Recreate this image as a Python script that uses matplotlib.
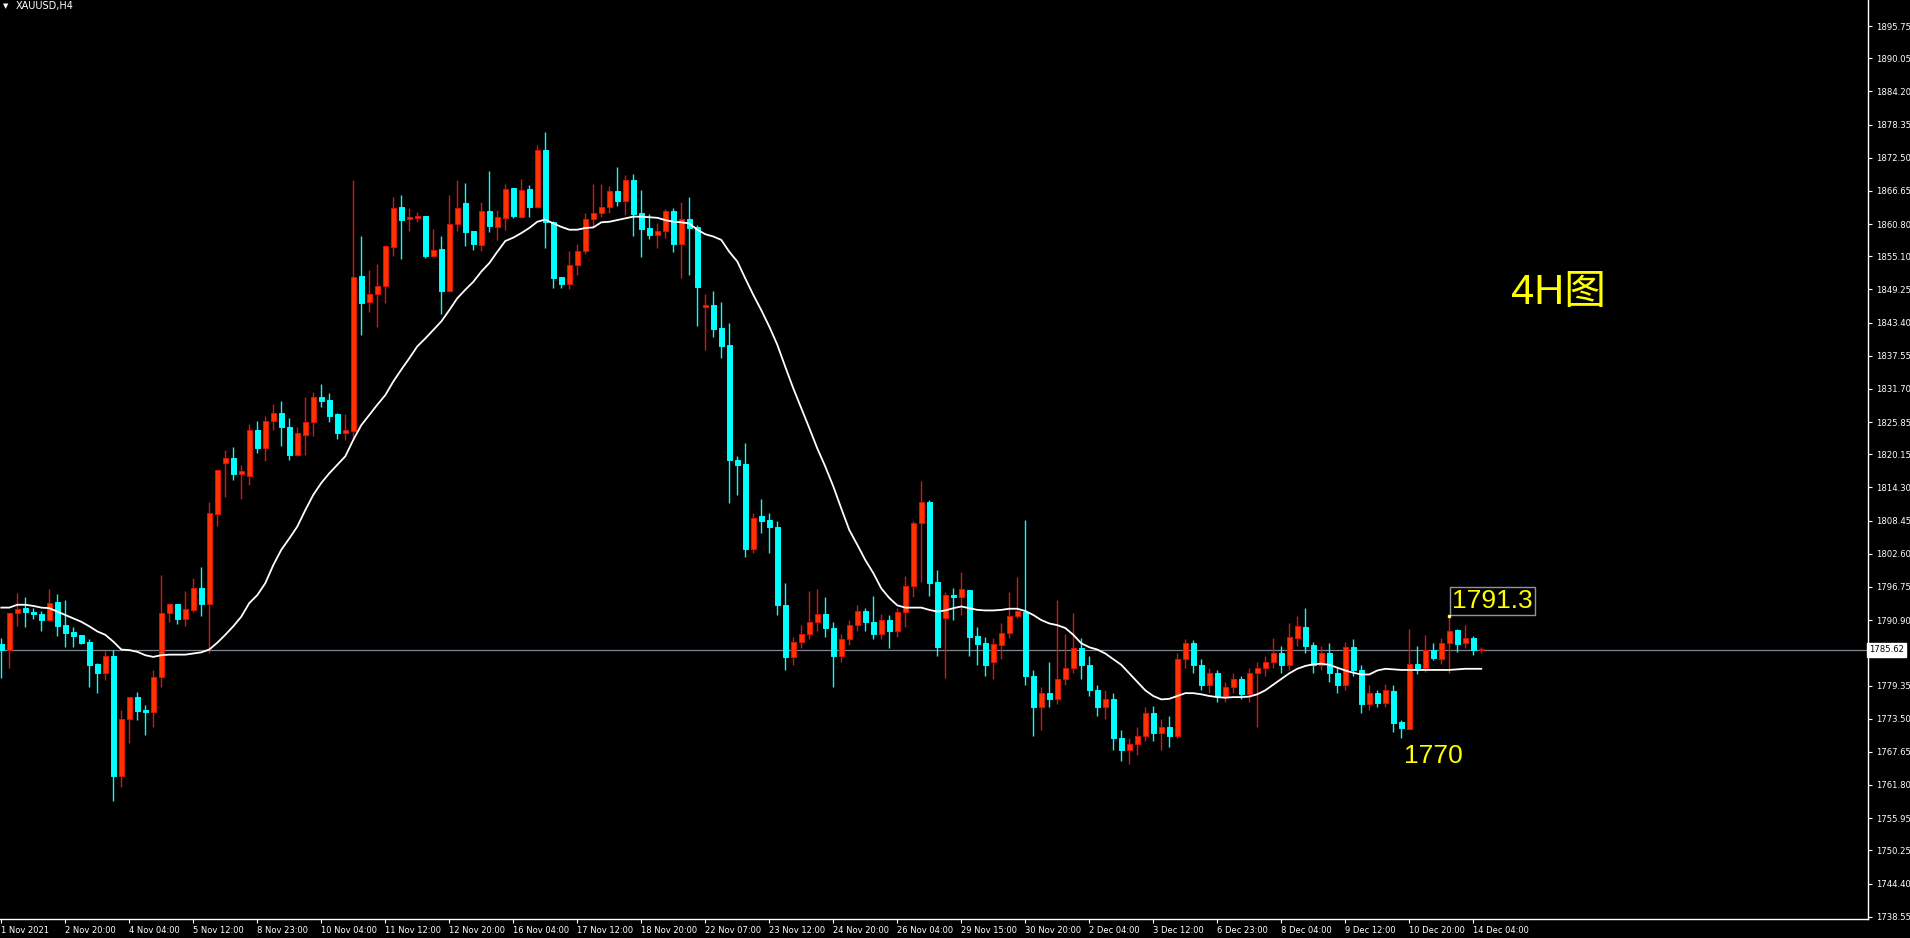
import matplotlib
matplotlib.use("Agg")
import matplotlib.pyplot as plt

# XAUUSD H4 candles, one value per bar (prices)
opens = [
    1786.7, 1785.7, 1792.1, 1793.0, 1792.3, 1792.0, 1791.0, 1794.1, 1790.0, 1788.8,
    1788.3, 1787.0, 1783.1, 1781.6, 1784.6, 1763.3, 1773.4, 1777.3, 1775.0, 1774.6,
    1780.9, 1792.2, 1793.7, 1791.1, 1792.7, 1796.6, 1793.8, 1809.7, 1818.7, 1819.5,
    1816.6, 1816.4, 1824.5, 1821.3, 1826.0, 1827.5, 1825.0, 1820.1, 1823.6, 1825.8,
    1830.3, 1829.8, 1827.2, 1824.0, 1824.3, 1851.6, 1847.0, 1848.4, 1849.8, 1856.8,
    1863.8, 1861.6, 1861.9, 1862.2, 1855.1, 1856.4, 1848.9, 1860.8, 1864.5, 1859.5,
    1857.1, 1863.1, 1860.3, 1861.8, 1867.2, 1862.1, 1866.9, 1863.8, 1873.9, 1861.1,
    1851.5, 1850.2, 1853.5, 1856.1, 1861.6, 1862.7, 1863.8, 1866.6, 1864.8, 1868.6,
    1862.7, 1860.1, 1858.8, 1859.5, 1863.1, 1857.3, 1861.7, 1860.3, 1846.2, 1846.5,
    1842.5, 1839.5, 1819.2, 1818.5, 1803.5, 1809.2, 1808.5, 1807.4, 1793.5, 1784.3,
    1787.0, 1788.5, 1790.5, 1792.0, 1789.5, 1784.5, 1787.5, 1790.0, 1792.5, 1790.5,
    1788.5, 1791.0, 1789.0, 1792.4, 1797.0, 1808.0, 1811.7, 1797.6, 1791.3, 1795.3,
    1794.9, 1796.2, 1788.1, 1786.8, 1783.5, 1786.5, 1788.7, 1791.7, 1792.4, 1781.0,
    1775.5, 1778.0, 1777.0, 1780.5, 1782.5, 1786.0, 1783.0, 1778.5, 1775.5, 1777.0,
    1770.0, 1768.0, 1769.0, 1770.5, 1774.5, 1771.0, 1772.0, 1770.5, 1784.0, 1786.8,
    1783.0, 1779.5, 1781.5, 1777.5, 1779.0, 1780.5, 1777.8, 1781.5, 1782.5, 1783.5,
    1785.0, 1783.0, 1787.8, 1789.7, 1786.5, 1783.0, 1785.0, 1781.5, 1779.5, 1786.2,
    1782.0, 1776.0, 1778.0, 1776.2, 1778.4, 1772.9, 1771.7, 1783.2, 1782.5, 1785.7,
    1784.1, 1786.8, 1789.2, 1786.8, 1787.7, 1785.7,
]
highs = [
    1787.7, 1792.2, 1795.6, 1794.9, 1793.1, 1792.5, 1796.4, 1795.5, 1794.4, 1789.7,
    1788.3, 1787.6, 1783.3, 1785.4, 1785.6, 1775.0, 1777.3, 1778.2, 1775.9, 1782.1,
    1798.9, 1794.0, 1793.7, 1796.0, 1798.4, 1800.2, 1811.8, 1817.4, 1821.0, 1821.5,
    1818.3, 1825.5, 1826.0, 1827.0, 1829.0, 1829.5, 1826.5, 1825.0, 1830.3, 1831.2,
    1832.6, 1831.0, 1827.4, 1827.2, 1868.5, 1858.6, 1852.7, 1853.8, 1857.1, 1865.5,
    1865.9, 1863.6, 1862.9, 1862.2, 1859.9, 1858.7, 1865.9, 1868.6, 1868.0, 1859.5,
    1864.7, 1870.2, 1863.3, 1867.9, 1867.2, 1868.7, 1867.7, 1874.8, 1877.1, 1861.4,
    1851.5, 1856.1, 1857.3, 1862.8, 1867.9, 1867.9, 1867.5, 1870.8, 1869.5, 1869.6,
    1866.8, 1862.6, 1860.9, 1863.5, 1863.6, 1864.7, 1865.6, 1860.6, 1848.5, 1849.0,
    1847.1, 1843.3, 1819.8, 1822.2, 1809.8, 1812.3, 1809.8, 1808.4, 1797.4, 1788.0,
    1790.0, 1796.0, 1796.4, 1794.9, 1790.5, 1788.5, 1791.0, 1793.5, 1793.0, 1795.1,
    1792.0, 1791.8, 1793.0, 1798.7, 1808.4, 1815.5, 1812.1, 1799.7, 1795.9, 1796.6,
    1799.4, 1796.2, 1789.7, 1787.9, 1787.7, 1790.4, 1795.9, 1798.5, 1808.6, 1782.0,
    1779.0, 1783.5, 1794.4, 1788.4, 1792.2, 1787.7, 1784.5, 1779.5, 1778.5, 1778.0,
    1771.5, 1770.0, 1772.0, 1775.5, 1775.8, 1773.5, 1774.0, 1785.0, 1787.5, 1787.4,
    1784.0, 1782.5, 1782.0, 1780.0, 1781.5, 1781.0, 1782.5, 1783.5, 1784.5, 1787.7,
    1786.3, 1790.4, 1791.6, 1793.0, 1787.0, 1786.3, 1786.9, 1782.5, 1787.0, 1787.6,
    1783.0, 1779.5, 1778.5, 1779.6, 1779.4, 1773.3, 1789.3, 1786.3, 1788.3, 1786.9,
    1787.7, 1791.7, 1789.3, 1790.0, 1788.1, 1786.1,
]
lows = [
    1780.7, 1782.5, 1789.9, 1789.6, 1791.1, 1789.0, 1790.8, 1788.1, 1786.2, 1786.2,
    1786.6, 1779.1, 1778.1, 1780.3, 1759.0, 1761.5, 1769.2, 1773.3, 1770.6, 1772.1,
    1779.0, 1790.6, 1790.2, 1789.9, 1792.4, 1791.7, 1785.0, 1807.5, 1812.7, 1815.6,
    1812.3, 1814.7, 1820.4, 1819.0, 1824.5, 1821.6, 1819.1, 1819.8, 1820.1, 1823.3,
    1828.5, 1825.9, 1822.8, 1822.6, 1822.7, 1841.3, 1845.2, 1842.7, 1846.9, 1855.1,
    1854.7, 1859.6, 1861.1, 1854.8, 1855.1, 1844.9, 1848.9, 1859.6, 1856.9, 1856.2,
    1856.1, 1859.4, 1858.0, 1859.8, 1861.8, 1861.8, 1862.1, 1863.6, 1856.5, 1849.5,
    1849.5, 1849.3, 1851.8, 1855.5, 1860.3, 1862.1, 1862.7, 1864.0, 1862.4, 1858.6,
    1854.9, 1858.1, 1856.6, 1858.4, 1855.9, 1851.3, 1851.8, 1842.8, 1838.6, 1840.9,
    1837.2, 1811.5, 1813.0, 1802.1, 1802.8, 1806.3, 1802.8, 1791.8, 1782.0, 1783.0,
    1786.0, 1787.5, 1789.0, 1788.0, 1779.0, 1783.5, 1786.5, 1789.0, 1789.0, 1787.5,
    1787.5, 1786.0, 1788.0, 1789.7, 1795.0, 1797.7, 1795.2, 1784.5, 1780.7, 1790.9,
    1791.8, 1784.5, 1783.0, 1781.0, 1780.5, 1784.0, 1787.8, 1791.3, 1779.5, 1770.5,
    1771.5, 1775.5, 1776.0, 1779.5, 1781.5, 1780.5, 1777.5, 1774.0, 1773.5, 1768.0,
    1766.0, 1765.5, 1767.0, 1769.5, 1769.5, 1768.0, 1768.5, 1770.0, 1782.5, 1781.5,
    1778.5, 1778.0, 1776.5, 1776.5, 1778.0, 1777.0, 1776.5, 1772.0, 1781.0, 1782.5,
    1781.5, 1782.0, 1786.4, 1785.0, 1781.5, 1782.0, 1780.0, 1778.0, 1778.5, 1781.0,
    1774.5, 1775.0, 1775.5, 1775.5, 1771.2, 1770.0, 1771.6, 1781.3, 1781.7, 1783.9,
    1783.2, 1781.6, 1785.3, 1786.0, 1784.7, 1785.0,
]
closes = [
    1785.7, 1792.1, 1792.8, 1792.4, 1791.9, 1791.0, 1794.0, 1789.9, 1788.7, 1788.1,
    1786.9, 1783.0, 1781.6, 1784.5, 1763.4, 1773.4, 1777.3, 1774.9, 1774.6, 1780.9,
    1792.1, 1793.7, 1791.1, 1792.8, 1796.6, 1793.7, 1809.8, 1817.4, 1819.5, 1816.6,
    1817.2, 1824.5, 1821.3, 1826.0, 1827.5, 1825.0, 1820.1, 1824.0, 1825.9, 1830.3,
    1829.6, 1827.0, 1824.0, 1824.5, 1851.4, 1846.9, 1848.4, 1849.8, 1856.9, 1863.6,
    1861.5, 1862.0, 1862.2, 1855.1, 1856.3, 1849.0, 1860.8, 1863.6, 1859.4, 1857.2,
    1863.1, 1860.5, 1862.0, 1866.9, 1862.2, 1866.8, 1863.8, 1873.8, 1861.1, 1851.3,
    1850.2, 1853.6, 1856.1, 1861.7, 1862.7, 1863.8, 1866.6, 1864.8, 1868.6, 1862.6,
    1860.0, 1858.8, 1859.5, 1863.1, 1857.3, 1861.7, 1860.1, 1849.6, 1846.5, 1842.3,
    1839.3, 1819.1, 1818.3, 1803.5, 1808.9, 1808.3, 1807.4, 1793.5, 1784.3, 1787.0,
    1788.5, 1790.5, 1792.0, 1789.5, 1784.5, 1787.5, 1790.0, 1792.5, 1790.5, 1788.5,
    1791.0, 1789.0, 1792.4, 1796.9, 1808.0, 1811.7, 1797.5, 1786.2, 1795.3, 1794.9,
    1796.3, 1788.0, 1786.7, 1783.0, 1786.6, 1788.7, 1791.7, 1792.5, 1781.0, 1775.5,
    1778.0, 1777.0, 1780.5, 1782.5, 1786.0, 1783.0, 1778.5, 1775.5, 1777.0, 1770.0,
    1768.0, 1769.0, 1770.5, 1774.5, 1771.0, 1772.0, 1770.5, 1784.0, 1786.8, 1783.0,
    1779.5, 1781.5, 1777.5, 1779.0, 1780.5, 1777.8, 1781.5, 1782.5, 1783.5, 1785.0,
    1783.0, 1787.9, 1789.9, 1786.4, 1783.0, 1785.0, 1781.5, 1779.5, 1786.2, 1782.0,
    1776.0, 1778.0, 1776.2, 1778.6, 1772.8, 1771.9, 1783.1, 1782.1, 1785.7, 1784.2,
    1786.8, 1788.9, 1786.7, 1787.7, 1785.7, 1785.7,
]
# moving average line as drawn on the chart
ma_line = [
    1793.1, 1793.1, 1793.6, 1793.6, 1793.4, 1793.1, 1793.0, 1792.4, 1791.8, 1791.2,
    1790.6, 1789.8, 1788.9, 1788.3, 1787.1, 1785.7, 1785.6, 1785.3, 1784.7, 1784.4,
    1784.7, 1784.8, 1784.8, 1784.8, 1785.0, 1785.2, 1785.7, 1786.9, 1788.3, 1789.8,
    1791.5, 1793.9, 1795.3, 1797.4, 1800.6, 1803.3, 1805.3, 1807.4, 1810.3, 1813.0,
    1815.1, 1816.8, 1818.3, 1819.8, 1822.7, 1825.3, 1827.1, 1828.9, 1830.6, 1833.0,
    1835.1, 1837.1, 1839.2, 1840.6, 1842.1, 1843.6, 1845.6, 1847.7, 1849.2, 1850.6,
    1852.4, 1853.9, 1855.9, 1857.8, 1858.4, 1859.2, 1860.1, 1861.2, 1861.6, 1860.9,
    1860.3, 1859.8, 1859.8, 1860.1, 1860.2, 1861.1, 1861.2, 1861.5, 1861.8, 1862.1,
    1862.1, 1862.0, 1861.9, 1861.5, 1861.2, 1861.1, 1860.9, 1859.8, 1859.0, 1858.6,
    1858.0, 1855.9, 1854.2, 1851.2, 1848.3, 1845.6, 1842.7, 1839.5, 1835.6, 1831.8,
    1828.3, 1824.8, 1821.2, 1818.0, 1814.5, 1810.6, 1806.8, 1804.2, 1801.5, 1799.2,
    1796.5, 1794.8, 1793.5, 1793.1, 1793.1, 1793.1, 1792.7, 1792.4, 1792.6, 1793.0,
    1793.3, 1793.0, 1792.7, 1792.6, 1792.6, 1792.7, 1792.9, 1792.9, 1792.5, 1791.8,
    1790.9, 1790.3, 1790.0, 1789.5, 1788.3, 1786.8, 1786.1, 1785.7, 1785.0, 1784.0,
    1783.0, 1781.5, 1780.0, 1778.5, 1777.5, 1776.9, 1777.0, 1777.5, 1778.0, 1778.0,
    1777.8, 1777.5, 1777.3, 1777.2, 1777.3, 1777.3, 1777.4, 1777.8, 1778.5, 1779.5,
    1780.5, 1781.5, 1782.3, 1782.8, 1783.1, 1783.2, 1783.0, 1782.5, 1782.0, 1781.6,
    1781.3, 1781.3, 1782.0, 1782.3, 1782.2, 1782.1, 1782.1, 1782.1, 1782.1, 1782.1,
    1782.1, 1782.1, 1782.2, 1782.3, 1782.3, 1782.3,
]

x_labels = ["1 Nov 2021", "2 Nov 20:00", "4 Nov 04:00", "5 Nov 12:00", "8 Nov 23:00",
            "10 Nov 04:00", "11 Nov 12:00", "12 Nov 20:00", "16 Nov 04:00", "17 Nov 12:00",
            "18 Nov 20:00", "22 Nov 07:00", "23 Nov 12:00", "24 Nov 20:00", "26 Nov 04:00",
            "29 Nov 15:00", "30 Nov 20:00", "2 Dec 04:00", "3 Dec 12:00", "6 Dec 23:00",
            "8 Dec 04:00", "9 Dec 12:00", "10 Dec 20:00", "14 Dec 04:00"]
y_ticks = [1895.75, 1890.05, 1884.20, 1878.35, 1872.50, 1866.65, 1860.80, 1855.10,
           1849.25, 1843.40, 1837.55, 1831.70, 1825.85, 1820.15, 1814.30, 1808.45,
           1802.60, 1796.75, 1790.90, 1779.35, 1773.50, 1767.65, 1761.80, 1755.95,
           1750.25, 1744.40, 1738.55]
last_price = 1785.62

W, H = 1910, 938
fig = plt.figure(figsize=(W / 100, H / 100), dpi=100, facecolor="black")
ax = fig.add_axes([0, 19 / H, 1868 / W, 919 / H])
ax.set_facecolor("black")

n = len(opens)
xs = list(range(n))
up = [c >= o for o, c in zip(opens, closes)]
wick_col = ["#e01010" if u else "#00ffff" for u in up]
face_col = ["#ff3300" if u else "#00ffff" for u in up]
bottoms = [min(o, c) for o, c in zip(opens, closes)]
heights = [max(abs(c - o), 0.12) for o, c in zip(opens, closes)]

ax.axhline(last_price, color="#7d8791", lw=0.9, zorder=1)
ax.vlines(xs, lows, highs, colors=wick_col, lw=1.0, zorder=2)
ax.bar(xs, heights, bottom=bottoms, width=0.6, color=face_col,
       edgecolor=wick_col, linewidth=0.7, zorder=3)
ax.plot(xs, ma_line, color="white", lw=1.3, zorder=4)

ax.set_xlim(-0.16, 233.34)
ax.set_ylim(1738.14, 1900.34)

for side in ["top", "left"]:
    ax.spines[side].set_visible(False)
for side in ["right", "bottom"]:
    ax.spines[side].set_color("white")
    ax.spines[side].set_linewidth(1.0)

ax.yaxis.tick_right()
ax.set_yticks(y_ticks)
ax.set_yticklabels(["%.2f" % v for v in y_ticks])
ax.tick_params(axis="y", colors="white", labelsize=6.1, length=3, pad=2.5)

ax.set_xticks(list(range(0, 8 * len(x_labels), 8)))
ax.set_xticklabels(x_labels)
for lbl in ax.get_xticklabels():
    lbl.set_horizontalalignment("left")
ax.tick_params(axis="x", colors="white", labelsize=6, length=3, pad=2)

# current price box on the price scale
ax.text(1.0006, last_price, "%.2f" % last_price, transform=ax.get_yaxis_transform(),
        ha="left", va="center", fontsize=6.1, color="black", zorder=6, clip_on=False,
        bbox=dict(boxstyle="square,pad=0.25", fc="white", ec="white"))

# symbol caption
fig.text(3 / W, 1 - 6 / H, "▼", color="white", fontsize=5, va="center", ha="left")
fig.text(16 / W, 1 - 6 / H, "XAUUSD,H4", color="white", fontsize=7, va="center", ha="left")

# annotations
ax.text(194.7, 1848.6, "4H图", color="#ffff00", fontsize=30, ha="center", va="center",
        family=["Liberation Sans", "Noto Sans CJK SC"], zorder=6)
ax.text(186.4, 1794.3, "1791.3", color="#ffff00", fontsize=19, ha="center", va="center",
        family=["Liberation Sans"], zorder=6,
        bbox=dict(boxstyle="square,pad=0.08", fc="none", ec="#8c96a0", lw=1.0))
ax.plot([181], [highs[181]], marker="s", ms=2, color="#ffff60", zorder=6)
ax.text(179.0, 1766.9, "1770", color="#ffff00", fontsize=19, ha="center", va="center",
        family=["Liberation Sans"], zorder=6)

fig.savefig("out.png", dpi=100, facecolor="black")
